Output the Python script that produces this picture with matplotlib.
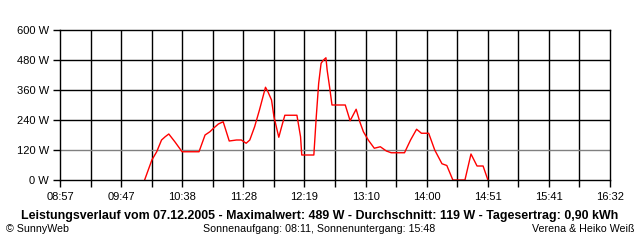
import matplotlib
matplotlib.use("Agg")
import matplotlib.pyplot as plt
import numpy as np

# --- data ---
times = ["10:07", "10:13", "10:17", "10:21", "10:24", "10:27", "10:32", "10:35", "10:38",
         "10:52", "10:57", "11:01", "11:04", "11:08", "11:12", "11:17", "11:23", "11:27",
         "11:31", "11:34", "11:38", "11:42", "11:47", "11:49", "11:52", "11:54", "11:58",
         "12:00", "12:03", "12:13", "12:16", "12:17", "12:27", "12:29", "12:31", "12:33",
         "12:35", "12:37", "12:38", "12:40", "12:42", "12:53", "12:57", "13:02", "13:05",
         "13:08", "13:12", "13:17", "13:22", "13:27", "13:31", "13:42", "13:47", "13:52",
         "13:56", "14:02", "14:07", "14:13", "14:17", "14:22", "14:32", "14:37", "14:42",
         "14:47", "14:51"]
power = [0, 80, 113, 160, 173, 184, 153, 133, 113,
         113, 180, 193, 207, 224, 233, 156, 160, 160,
         147, 160, 213, 280, 371, 353, 320, 253, 171,
         207, 259, 259, 173, 100, 100, 253, 387, 467,
         480, 489, 440, 373, 300, 300, 237, 283, 233,
         193, 160, 127, 133, 116, 109, 109, 160, 203,
         187, 187, 120, 65, 58, 0, 0, 104, 56,
         56, 0]
x_labels = ["08:57", "09:47", "10:38", "11:28", "12:19", "13:10", "14:00", "14:51", "15:41", "16:32"]
y_ticks = [0, 120, 240, 360, 480, 600]
y_labels = ["0 W", "120 W", "240 W", "360 W", "480 W", "600 W"]

title = "Leistungsverlauf vom 07.12.2005 - Maximalwert: 489 W - Durchschnitt: 119 W - Tagesertrag: 0,90 kWh"
left_note = "\u00a9 SunnyWeb"
mid_note = "Sonnenaufgang: 08:11, Sonnenuntergang: 15:48"
right_note = "Verena & Heiko Wei\u00df"

def to_min(s):
    h, m = s.split(":")
    return int(h) * 60 + int(m)

t = np.array([to_min(s) for s in times])
start, end = to_min("08:57"), to_min("16:32")

plt.rcParams['font.family'] = ['Liberation Sans', 'DejaVu Sans']
fig = plt.figure(figsize=(6.4, 2.4), dpi=100)
ax = fig.add_axes([60/640, 60/240, 550/640, 150/240])

ax.set_xlim(start, end)
ax.set_ylim(0, 600)

all_ticks = np.linspace(start, end, 19)
ax.set_xticks(all_ticks[::2])
ax.set_xticklabels(x_labels)
ax.set_xticks(all_ticks[1::2], minor=True)
ax.set_yticks(y_ticks)
ax.set_yticklabels(y_labels)

lw = 1.0
for xv in all_ticks[1:-1]:
    ax.axvline(xv, color="black", lw=lw, zorder=1)
for yv in y_ticks[1:-1]:
    ax.axhline(yv, color="#808080" if yv == 120 else "black", lw=lw, zorder=1)

ax.plot(t, power, color="red", lw=1.0, zorder=2)

for sp in ax.spines.values():
    sp.set_linewidth(lw)
    sp.set_color("black")
    sp.set_zorder(3)

ax.tick_params(axis="both", which="both", direction="out", length=5, width=lw,
               color="black", labelsize=8, pad=3)
ax.tick_params(axis="x", which="both", pad=4)

fig.text(0.5, (240-216)/240, title, ha="center", va="center",
         fontsize=8.9, fontweight="bold")
fig.text(6/640, (240-229)/240, left_note, ha="left", va="center", fontsize=7.7)
fig.text(203/640, (240-229)/240, mid_note, ha="left", va="center", fontsize=7.7)
fig.text(634/640, (240-229)/240, right_note, ha="right", va="center", fontsize=7.7)

fig.savefig("out.png", dpi=100)
